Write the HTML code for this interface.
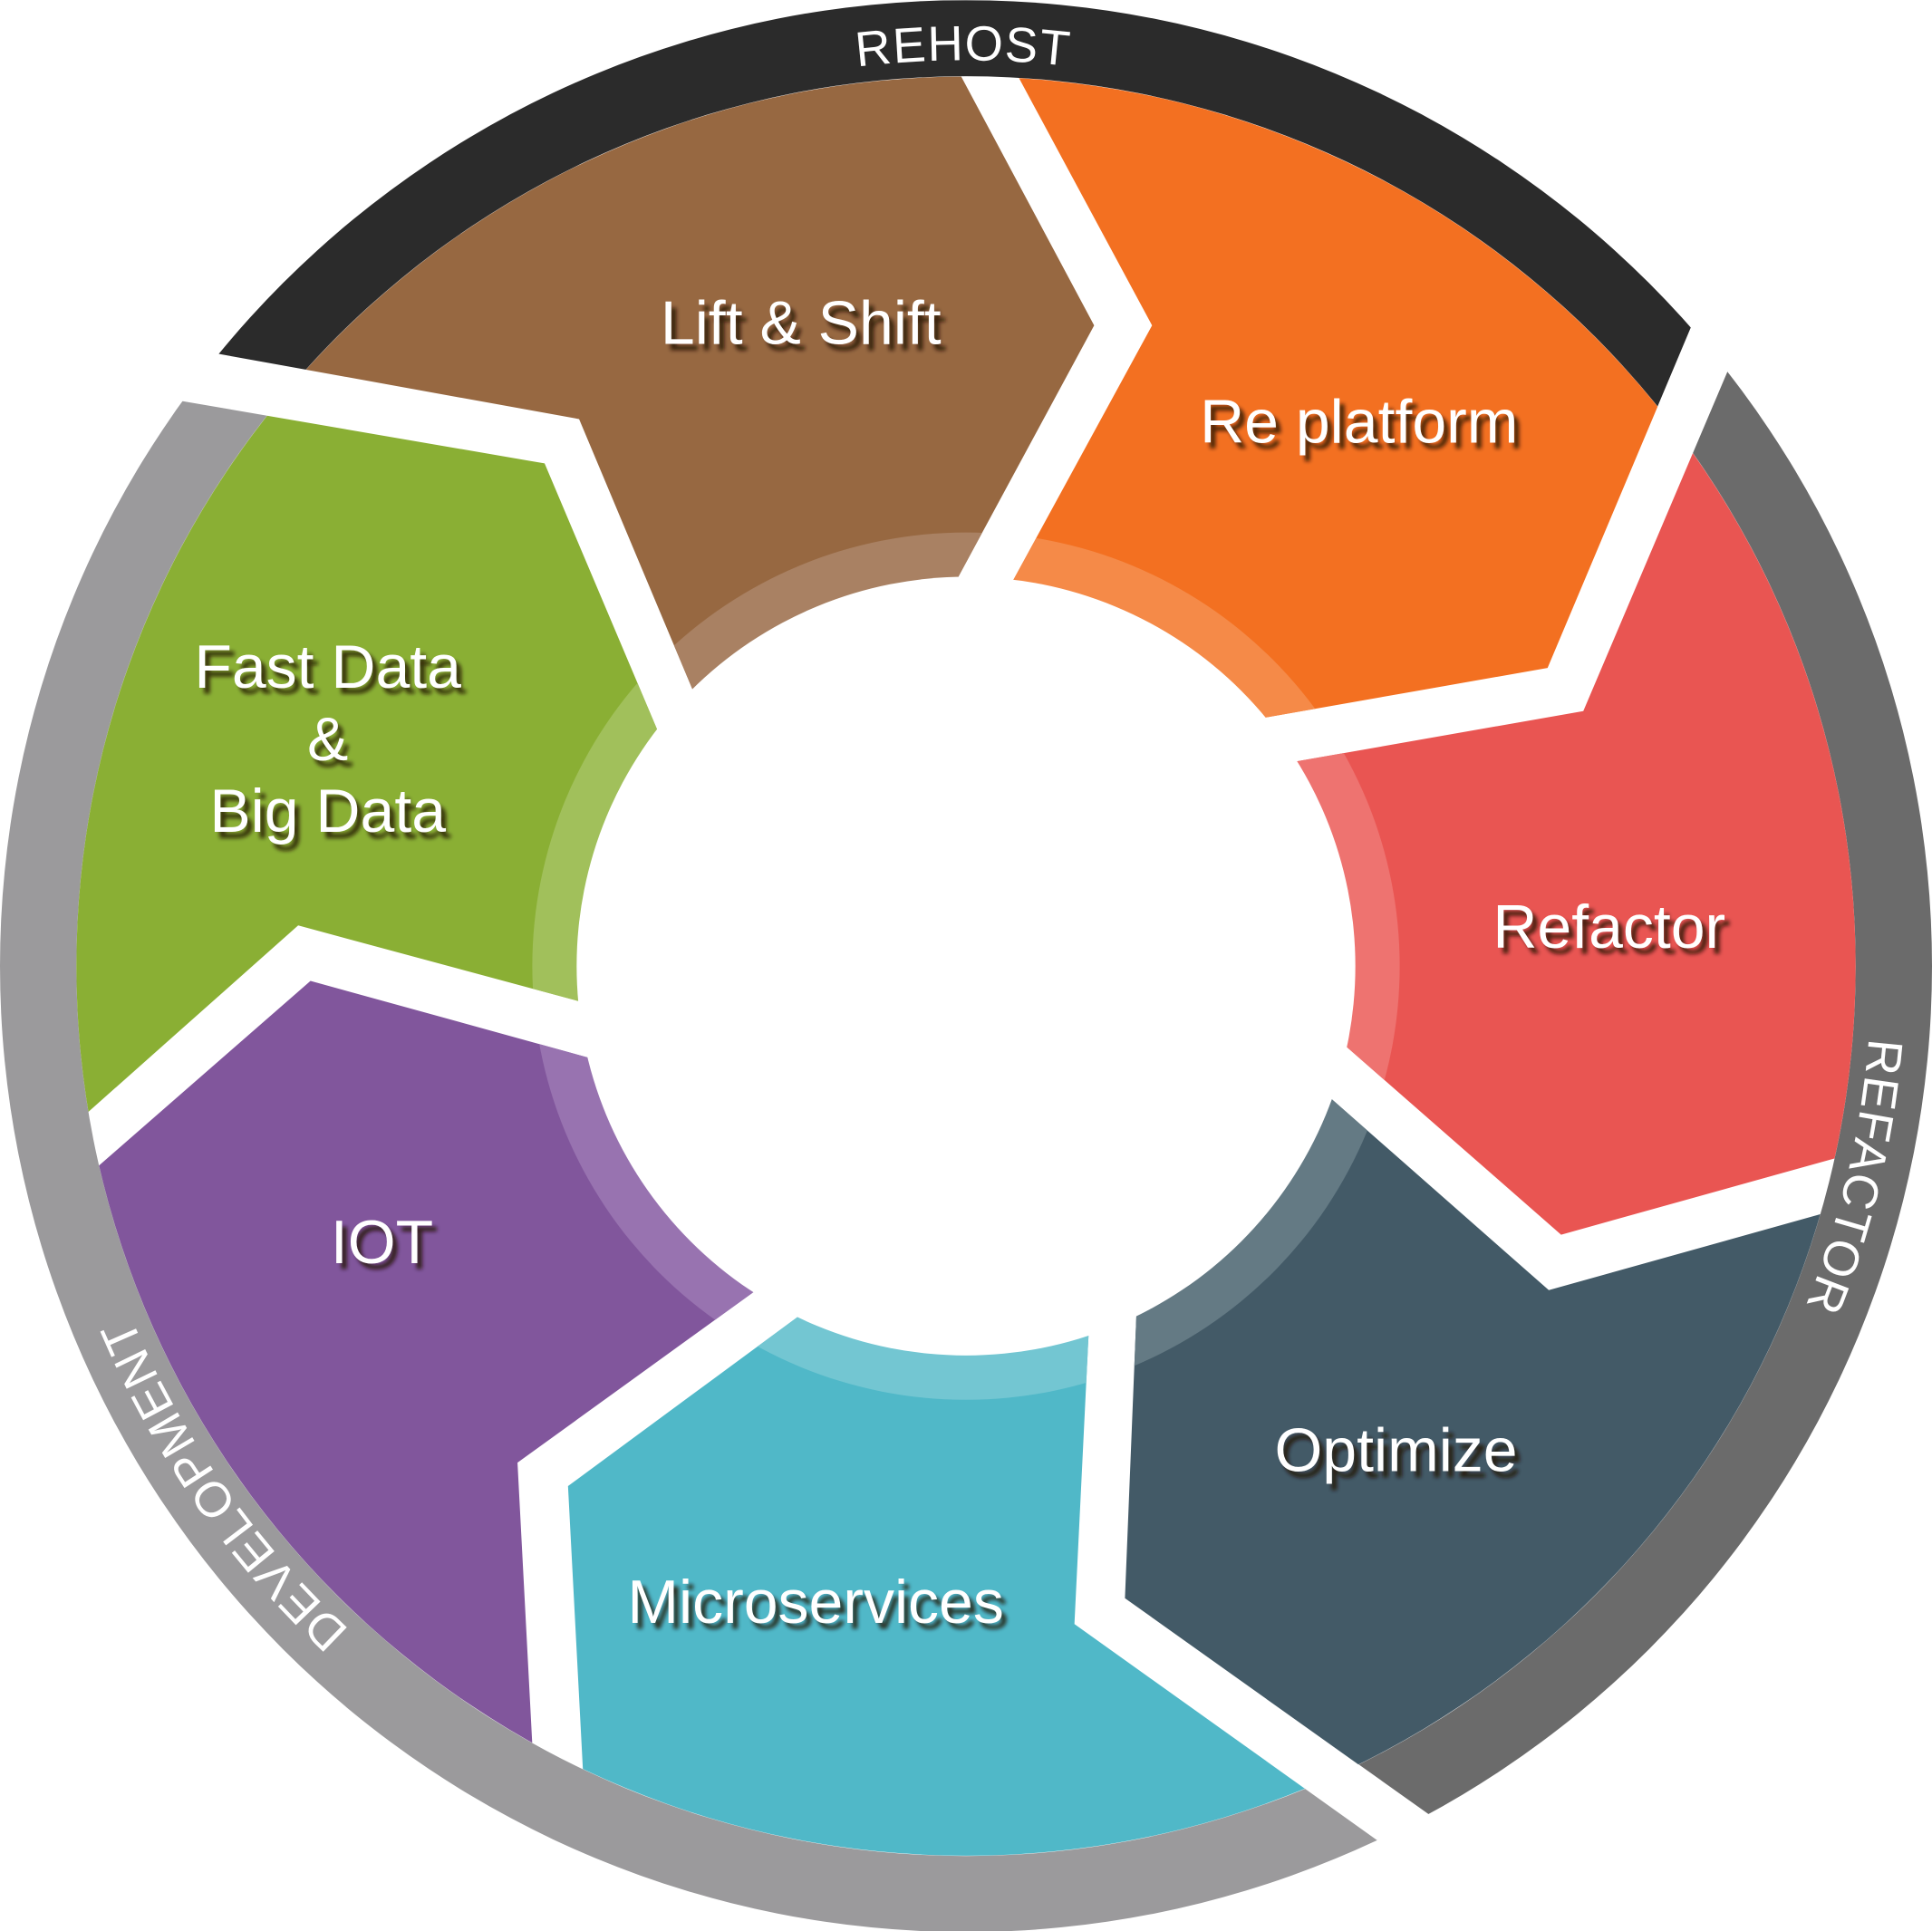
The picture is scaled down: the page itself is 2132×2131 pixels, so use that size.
<!DOCTYPE html>
<html><head><meta charset="utf-8"><style>
html,body{margin:0;padding:0;background:#fff;}
svg{display:block;}
.t{font-family:"Liberation Sans",sans-serif;font-size:50px;text-anchor:middle;}
.r{font-family:"Liberation Sans",sans-serif;font-size:40px;fill:#fff;letter-spacing:1px;}
</style></head><body>
<svg width="2132" height="2131" viewBox="0 0 1568 1567" xmlns="http://www.w3.org/2000/svg">
<defs>
<clipPath id="ann"><path fill-rule="evenodd" clip-rule="evenodd" d="M0,784 A784,784 0 1 1 1568,784 A784,784 0 1 1 0,784 Z M62,784 A722,722 0 1 0 1506,784 A722,722 0 1 0 62,784 Z"/></clipPath>
<clipPath id="big"><circle cx="784" cy="784" r="722"/></clipPath>
<clipPath id="band"><circle cx="784" cy="784" r="352"/></clipPath>
<filter id="bl" x="-10%" y="-30%" width="120%" height="160%"><feGaussianBlur stdDeviation="1.5"/></filter>
<path id="lp" d="M49,784 A735,735 0 1 1 1519,784 A735,735 0 1 1 49,784"/>
</defs>
<g clip-path="url(#ann)">
<polygon fill="#2b2b2b" points="0,255 470,340 784,784 1256,542 1484,0 0,0"/>
<polygon fill="#6b6b6b" points="1530,0 1285,577 784,784 913,1297 1294,1568 1568,1568 1568,0"/>
<polygon fill="#9b9a9c" points="0,300 442,376 784,784 872,1318 1222,1568 0,1568"/>
</g>
<g clip-path="url(#big)">
<polygon fill="#976841" points="0,255 470,340 600,650 784,784 740,538 888,264 747,0 0,0"/>
<polygon fill="#f37021" points="793,0 935,264 790,530 784,784 960,594 1256,542 1400,200 1568,0"/>
<polygon fill="#e95552" points="1530,0 1285,577 1000,627 784,784 1050,812 1267,1002 1568,918 1568,0"/>
<polygon fill="#435a67" points="784,784 1040,856 1257,1047 1568,960 1568,1568 1240,1530 913,1297 925,1000"/>
<polygon fill="#50b8c8" points="784,784 890,950 872,1318 1222,1568 480,1568 461,1206 700,1030"/>
<polygon fill="#81569c" points="784,784 520,870 252,796 0,1016 0,1568 440,1568 420,1187 640,1028"/>
<polygon fill="#8aaf34" points="784,784 560,655 442,376 0,300 0,966 242,751 520,826"/>
</g>
<g clip-path="url(#band)">
<polygon fill="#a98163" points="0,255 470,340 600,650 784,784 740,538 888,264 747,0 0,0"/>
<polygon fill="#f58a48" points="793,0 935,264 790,530 784,784 960,594 1256,542 1400,200 1568,0"/>
<polygon fill="#ee7370" points="1530,0 1285,577 1000,627 784,784 1050,812 1267,1002 1568,918 1568,0"/>
<polygon fill="#647a84" points="784,784 1040,856 1257,1047 1568,960 1568,1568 1240,1530 913,1297 925,1000"/>
<polygon fill="#73c6d2" points="784,784 890,950 872,1318 1222,1568 480,1568 461,1206 700,1030"/>
<polygon fill="#9873b0" points="784,784 520,870 252,796 0,1016 0,1568 440,1568 420,1187 640,1028"/>
<polygon fill="#a1c05b" points="784,784 560,655 442,376 0,300 0,966 242,751 520,826"/>
</g>
<circle cx="784" cy="784" r="316" fill="#fff"/>
<text class="r" text-anchor="middle"><textPath href="#lp" startOffset="24.95%">REHOST</textPath></text>
<text class="r" text-anchor="middle"><textPath href="#lp" startOffset="53.7%">REFACTOR</textPath></text>
<text class="r" text-anchor="middle"><textPath href="#lp" startOffset="90.3%">DEVELOPMENT</textPath></text>
<g class="t" fill="rgba(30,15,5,0.8)" transform="translate(4,5)" filter="url(#bl)">
<text x="650" y="279">Lift &amp; Shift</text>
<text x="1103" y="359">Re platform</text>
<text x="1306" y="769">Refactor</text>
<text x="1133" y="1194">Optimize</text>
<text x="662" y="1317">Microservices</text>
<text x="310" y="1025">IOT</text>
<text x="266" y="558">Fast Data</text>
<text x="266" y="617">&amp;</text>
<text x="266" y="675">Big Data</text>
</g>
<g class="t" fill="#fff">
<text x="650" y="279">Lift &amp; Shift</text>
<text x="1103" y="359">Re platform</text>
<text x="1306" y="769">Refactor</text>
<text x="1133" y="1194">Optimize</text>
<text x="662" y="1317">Microservices</text>
<text x="310" y="1025">IOT</text>
<text x="266" y="558">Fast Data</text>
<text x="266" y="617">&amp;</text>
<text x="266" y="675">Big Data</text>
</g>
</svg>
</body></html>
